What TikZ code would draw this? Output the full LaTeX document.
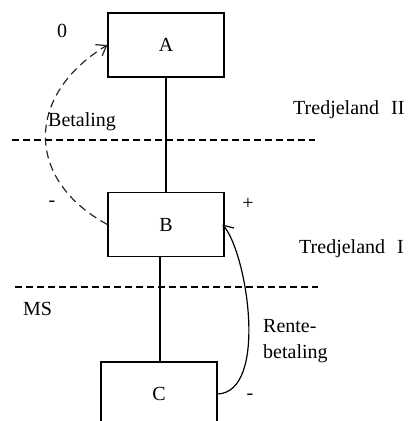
\documentclass[tikz,border=0pt]{standalone}
\usepackage{fontspec}
\setmainfont{Liberation Serif}
\newfontfamily\tnrfont{Liberation Serif}
\usetikzlibrary{arrows.meta}
\begin{document}
\begin{tikzpicture}[x=1pt,y=-1pt,
  >={Straight Barb[length=9pt,width=13pt]},
  txt/.style={font=\tnrfont\fontsize{20}{24}\selectfont, inner sep=0pt},
  box/.style={draw, line width=1.2pt, minimum width=116pt, minimum height=64pt, inner sep=0pt, font=\tnrfont\fontsize{20}{24}\selectfont},
  link/.style={line width=1.2pt},
  sepline/.style={line width=1.2pt, dash pattern=on 7pt off 4pt},
  flowdash/.style={line width=1.2pt, draw=black!85, dash pattern=on 8pt off 5pt}]
\path[use as bounding box] (0,0) rectangle (413,421);
\clip (0,0) rectangle (413,421);
\node[box] (A) at (166,45) {A};
\node[box] (B) at (166,224.5) {B};
\node[box] (C) at (159,394) {C};
\draw[link] (A.south) -- (B.north);
\draw[link] (B.south -| 160,0) -- (C.north -| 160,0);
\coordinate (s1a) at (12,140);
\coordinate (s1b) at (315,140);
\coordinate (s2a) at (15,287);
\coordinate (s2b) at (318,287);
\draw[sepline] (s1a) -- (s1b);
\draw[sepline] (s2a) -- (s2b);
\draw[flowdash, ->] (B.west) .. controls (25,180) and (25,95) .. (A.west);
\draw[link, ->] (C.east) .. controls (268,392) and (248,255) .. ([xshift=-2pt]B.east);
\node[txt, anchor=base] (l0) at (62,37) {0};
\node[txt, anchor=base west] (lbet) at (48,126) {Betaling};
\node[txt, anchor=base west] (lt2) at (293,114) {Tredjeland\hspace{0.6em}II};
\node[txt, anchor=base] (lm1) at (52,206) {-};
\node[txt, anchor=base] (lp) at (248,209) {+};
\node[txt, anchor=base west] (lt1) at (299,253) {Tredjeland\hspace{0.6em}I};
\node[txt, anchor=base west] (lms) at (23,315) {MS};
\node[txt, anchor=base west, align=left] (lrente) at (263,332) {Rente-};
\node[txt, anchor=base west, align=left] (lbet2) at (263,358) {betaling};
\node[txt, anchor=base] (lm2) at (250,399) {-};
\end{tikzpicture}
\end{document}
